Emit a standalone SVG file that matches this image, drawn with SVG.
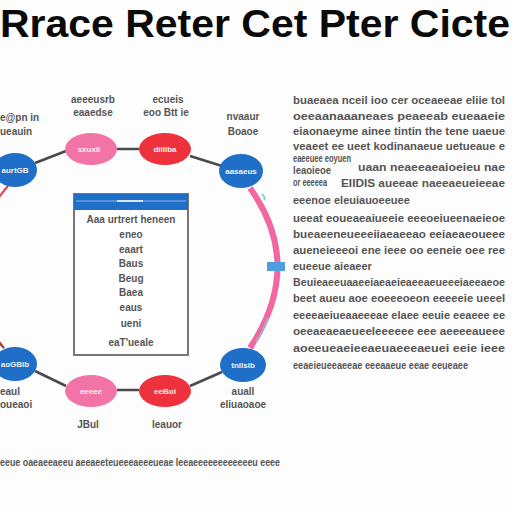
<svg xmlns="http://www.w3.org/2000/svg" width="512" height="512" viewBox="0 0 512 512">
<style>
.t{font-family:"Liberation Sans",Arial,sans-serif;fill:#555;font-weight:bold}
.lbl{font-size:10px}
.in{font-family:"Liberation Sans",Arial,sans-serif;fill:#f2f2f2;font-size:8px;font-weight:bold}
.col{font-family:"Liberation Sans",Arial,sans-serif;fill:#555;font-size:11px;font-weight:bold}
.bx{font-family:"Liberation Sans",Arial,sans-serif;fill:#555;font-size:10px;font-weight:bold}
.blue{fill:#1f6fc9}
.pink{fill:#f274a6}
.red{fill:#ee323d}
.con{stroke:#4a4a4e;stroke-width:2.5;fill:none}
</style>
<rect width="512" height="512" fill="#fdfdfd"/>
<text x="0" y="37" font-family="Liberation Sans,Arial,sans-serif" font-size="38" font-weight="bold" fill="#0a0a0a" textLength="510" lengthAdjust="spacingAndGlyphs">Rrace Reter Cet Pter Cicte</text>

<g id="connectors">
<path class="con" d="M35 163 L66 151"/>
<path class="con" d="M117 149 L139 149"/>
<path class="con" d="M190 156 L222 166"/>
<path class="con" d="M35 371 L66 386"/>
<path class="con" d="M117 390 L139 390"/>
<path class="con" d="M190 386 L222 372"/>
<path d="M8 186 Q-60 265 4 348" stroke="#e0404a" stroke-width="2" fill="none"/>
<path d="M4 348 Q0 344 -4 340" stroke="#9a4a3a" stroke-width="2" fill="none"/>
<path d="M250 188 Q305 265 250 348" stroke="#f2679f" stroke-width="6" fill="none"/>
<path d="M262 194 Q266 198 264 200" stroke="#7fd6cf" stroke-width="2" fill="none"/>
<path d="M268 318 Q262 334 256 342" stroke="#9ab7cf" stroke-width="2" fill="none"/>
<rect x="267" y="262" width="18" height="9" fill="#4f9fe0"/>
</g>

<g id="node-tl">
<ellipse class="blue" cx="15" cy="170" rx="22" ry="17"/>
<text class="in" x="15" y="173" text-anchor="middle">aurtGB</text>
<text class="t lbl" x="0" y="121">e@pn in</text>
<text class="t lbl" x="0" y="135">ueauin</text>
</g>
<g id="node-tp">
<ellipse class="pink" cx="91" cy="149" rx="26" ry="16"/>
<text class="in" x="89" y="152" text-anchor="middle">sxuxii</text>
<text class="t lbl" x="93" y="103" text-anchor="middle">aeeeusrb</text>
<text class="t lbl" x="93" y="116" text-anchor="middle">eaaedse</text>
</g>
<g id="node-tr">
<ellipse class="red" cx="165" cy="149" rx="26" ry="16"/>
<text class="in" x="165" y="152" text-anchor="middle">dilliba</text>
<text class="t lbl" x="168" y="103" text-anchor="middle">ecueis</text>
<text class="t lbl" x="166" y="116" text-anchor="middle">eoo Btt ie</text>
</g>
<g id="node-rt">
<ellipse class="blue" cx="241" cy="171" rx="22" ry="17"/>
<text class="in" x="241" y="174" text-anchor="middle">aasaeus</text>
<text class="t lbl" x="243" y="120" text-anchor="middle">nvaaur</text>
<text class="t lbl" x="243" y="135" text-anchor="middle">Boaoe</text>
</g>
<g id="node-bl">
<ellipse class="blue" cx="15" cy="364" rx="22" ry="17"/>
<text class="in" x="15" y="367" text-anchor="middle">aoGBlb</text>
<text class="t lbl" x="0" y="395">eaul</text>
<text class="t lbl" x="0" y="408">oueaoi</text>
</g>
<g id="node-bp">
<ellipse class="pink" cx="91" cy="391" rx="26" ry="16"/>
<text class="in" x="91" y="394" text-anchor="middle">eeeee</text>
<text class="t lbl" x="88" y="428" text-anchor="middle">JBul</text>
</g>
<g id="node-br">
<ellipse class="red" cx="165" cy="391" rx="26" ry="16"/>
<text class="in" x="165" y="394" text-anchor="middle">eeBoi</text>
<text class="t lbl" x="167" y="428" text-anchor="middle">leauor</text>
</g>
<g id="node-rb">
<ellipse class="blue" cx="243" cy="365" rx="23" ry="17"/>
<text class="in" x="243" y="368" text-anchor="middle">tnllslb</text>
<text class="t lbl" x="243" y="395" text-anchor="middle">auall</text>
<text class="t lbl" x="243" y="408" text-anchor="middle">eliuaoaoe</text>
</g>

<g id="box">
<rect x="74" y="194" width="114" height="161" fill="#fff" stroke="#777" stroke-width="2"/>
<rect x="74" y="194" width="114" height="16" fill="#1f6fc9"/>
<line x1="76" y1="201" x2="186" y2="201" stroke="#8fb6e6" stroke-width="1"/>
<line x1="117" y1="201" x2="143" y2="201" stroke="#d8e6f5" stroke-width="2"/>
<text class="bx" x="131" y="223" text-anchor="middle">Aaa urtrert heneen</text>
<text class="bx" x="131" y="238" text-anchor="middle">eneo</text>
<text class="bx" x="131" y="253" text-anchor="middle">eaart</text>
<text class="bx" x="131" y="267" text-anchor="middle">Baus</text>
<text class="bx" x="131" y="282" text-anchor="middle">Beug</text>
<text class="bx" x="131" y="296" text-anchor="middle">Baea</text>
<text class="bx" x="131" y="311" text-anchor="middle">eaus</text>
<text class="bx" x="131" y="327" text-anchor="middle">ueni</text>
<text class="bx" x="131" y="346" text-anchor="middle">eaT'ueale</text>
</g>

<g id="text-column">
<text class="col" x="293" y="104" textLength="212" lengthAdjust="spacingAndGlyphs">buaeaea nceil ioo cer oceaeeae eliie tol</text>
<text class="col" x="293" y="120" textLength="212" lengthAdjust="spacingAndGlyphs">oeeaanaaaneaes peaeeab eueaaeie</text>
<text class="col" x="293" y="135" textLength="212" lengthAdjust="spacingAndGlyphs">eiaonaeyme ainee tintin the tene uaeue</text>
<text class="col" x="293" y="150" font-size="9" textLength="212" lengthAdjust="spacingAndGlyphs">veaeet ee ueet kodinanaeue uetueaue e</text>
<text class="col" x="293" y="162" font-size="7" textLength="58" lengthAdjust="spacingAndGlyphs">eaeeuee eoyuen</text>
<text class="col" x="293" y="174" font-size="9" textLength="38" lengthAdjust="spacingAndGlyphs">leaoieoe</text>
<text class="col" x="358" y="171" textLength="147" lengthAdjust="spacingAndGlyphs">uaan neaeeaeaioeieu nae</text>
<text class="col" x="293" y="186" font-size="7" textLength="34" lengthAdjust="spacingAndGlyphs">or eeeeea</text>
<text class="col" x="341" y="187" textLength="164" lengthAdjust="spacingAndGlyphs">EIIDIS aueeae naeeaeueieeae</text>
<text class="col" x="293" y="204">eeenoe eleuiauoeeuee</text>
<text class="col" x="293" y="222" textLength="212" lengthAdjust="spacingAndGlyphs">ueeat eoueaeaiueeie eeeoeiueenaeieoe</text>
<text class="col" x="293" y="238" textLength="212" lengthAdjust="spacingAndGlyphs">bueaeeneueeeiiaeaeeao eeiaeaeoueee</text>
<text class="col" x="293" y="254" textLength="212" lengthAdjust="spacingAndGlyphs">aueneieeeoi ene ieee oo eeneie oee ree</text>
<text class="col" x="293" y="270">eueeue aieaeer</text>
<text class="col" x="293" y="286" textLength="212" lengthAdjust="spacingAndGlyphs">Beuieaeeuaaeeiaeaeieaeeaeueeeiaeeaeoe</text>
<text class="col" x="293" y="302" textLength="212" lengthAdjust="spacingAndGlyphs">beet aueu aoe eoeeeoeon eeeeeie ueeel</text>
<text class="col" x="293" y="319" textLength="212" lengthAdjust="spacingAndGlyphs">eeeeaeiueaaeeeae elaee eeuie eeaeee ee</text>
<text class="col" x="293" y="335" textLength="212" lengthAdjust="spacingAndGlyphs">oeeaeaeaeueeleeeeee eee aeeeeaueee</text>
<text class="col" x="293" y="352" textLength="212" lengthAdjust="spacingAndGlyphs">aoeeueaeieeaeuaeeeaeuei eeie ieee</text>
<text class="col" x="293" y="369" textLength="175" lengthAdjust="spacingAndGlyphs">eeaeieueeaeeae eeeaaeue eeae eeueaee</text>
</g>

<text class="col" x="0" y="466" font-size="10" textLength="280" lengthAdjust="spacingAndGlyphs">eeue oaeaeeaeeu aeeaeeteueeeaeeeueae leeaeeeeeeeeeeeeu eeee</text>
</svg>
